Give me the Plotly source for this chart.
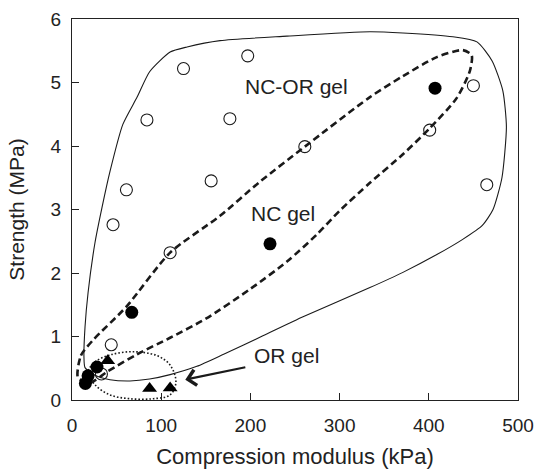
import plotly.graph_objects as go

# NC-OR gel (open circles)
ncor_x = [125, 197, 84, 177, 261, 61, 156, 450, 401, 465, 46, 110, 44, 33]
ncor_y = [5.22, 5.42, 4.41, 4.43, 3.99, 3.31, 3.45, 4.95, 4.25, 3.39, 2.76, 2.32, 0.87, 0.41]

# NC gel (filled circles)
nc_x = [407, 222, 67, 28, 18, 15]
nc_y = [4.91, 2.46, 1.38, 0.52, 0.38, 0.26]

# OR gel (filled triangles)
or_x = [40, 87, 110]
or_y = [0.62, 0.18, 0.19]

# Hand-drawn enclosures (data coordinates)
outer_x = [14.6, 25.8, 42.6, 65, 87, 110, 140, 170, 214, 259, 334, 371, 409, 438, 460, 472,
           482, 487, 483, 471, 454, 427, 371, 334, 241, 166, 129, 110, 87, 73, 57, 42.6,
           33.6, 25.8, 18, 14.6, 13.4, 14.6]
outer_y = [0.51, 0.39, 0.32, 0.30, 0.33, 0.40, 0.53, 0.72, 1.01, 1.31, 1.77, 2.01, 2.29, 2.53, 2.75, 3.00,
           3.50, 4.30, 4.87, 5.34, 5.64, 5.72, 5.78, 5.80, 5.73, 5.66, 5.56, 5.48, 5.17, 4.77, 4.34, 3.60,
           3.03, 2.48, 1.69, 1.15, 0.68, 0.51]

nc_env_x = [6.7, 10, 24, 61, 110, 166, 210, 261, 334, 371, 409, 438, 448, 446,
            431, 401, 371, 334, 300, 274, 241, 200, 150, 110, 73, 40, 20, 6.7]
nc_env_y = [0.35, 0.70, 0.95, 1.47, 2.32, 2.90, 3.43, 3.99, 4.77, 5.10, 5.40, 5.51, 5.43, 5.18,
            4.75, 4.28, 3.87, 3.42, 2.98, 2.60, 2.18, 1.75, 1.28, 0.98, 0.72, 0.45, 0.27, 0.35]

or_env_x = [18, 25.8, 42.6, 68, 95, 110, 116.5, 110, 91, 65, 42.6, 25.8, 18]
or_env_y = [0.44, 0.60, 0.71, 0.76, 0.70, 0.55, 0.28, 0.08, 0.02, 0.02, 0.08, 0.24, 0.44]

ink = "#1a1a1a"
fig = go.Figure()

fig.add_trace(go.Scatter(x=outer_x, y=outer_y, mode="lines",
                         line=dict(color=ink, width=1.1, shape="spline", smoothing=0.6),
                         hoverinfo="skip", showlegend=False))
fig.add_trace(go.Scatter(x=nc_env_x, y=nc_env_y, mode="lines",
                         line=dict(color=ink, width=2.6, dash="7px,4px", shape="spline", smoothing=0.7),
                         hoverinfo="skip", showlegend=False))
fig.add_trace(go.Scatter(x=or_env_x, y=or_env_y, mode="lines",
                         line=dict(color=ink, width=1.6, dash="1.6px,2px", shape="spline", smoothing=1.0),
                         hoverinfo="skip", showlegend=False))

fig.add_trace(go.Scatter(x=ncor_x, y=ncor_y, mode="markers", name="NC-OR gel",
                         marker=dict(symbol="circle-open", size=12, color=ink, line=dict(width=1.1)),
                         showlegend=False, cliponaxis=False))
fig.add_trace(go.Scatter(x=nc_x, y=nc_y, mode="markers", name="NC gel",
                         marker=dict(symbol="circle", size=13, color="black"),
                         showlegend=False, cliponaxis=False))
fig.add_trace(go.Scatter(x=or_x, y=or_y, mode="markers", name="OR gel",
                         marker=dict(symbol="triangle-up", size=13, color="black"),
                         showlegend=False, cliponaxis=False))

font_family = "Liberation Sans, Arial, sans-serif"
label_font = dict(family=font_family, size=21, color="#222")

fig.add_annotation(x=252, y=4.94, text="NC-OR gel", showarrow=False, font=label_font)
fig.add_annotation(x=236, y=2.94, text="NC gel", showarrow=False, font=label_font)
fig.add_annotation(x=241, y=0.70, text="OR gel", showarrow=False, font=label_font)
fig.add_annotation(x=127, y=0.32, ax=196, ay=0.52, axref="x", ayref="y", xref="x", yref="y",
                   text="", showarrow=True, arrowhead=4, arrowsize=1.4, arrowwidth=2.2,
                   arrowcolor=ink)

axis_common = dict(showline=True, linecolor="#222", linewidth=1.3, mirror=True,
                   ticks="inside", ticklen=7, tickwidth=1.2, tickcolor="#222",
                   showgrid=False, zeroline=False, automargin=False,
                   tickfont=dict(family=font_family, size=19, color="#222"))

fig.update_xaxes(range=[0, 500], tickvals=[0, 100, 200, 300, 400, 500], ticklabelstandoff=8,
                 title=dict(text="Compression modulus (kPa)",
                            font=dict(family=font_family, size=22, color="#222"), standoff=14),
                 **axis_common)
fig.update_yaxes(range=[0, 6], tickvals=[0, 1, 2, 3, 4, 5, 6], ticklabelstandoff=6,
                 title=dict(text="Strength (MPa)",
                            font=dict(family=font_family, size=21, color="#222"), standoff=20),
                 **axis_common)

fig.update_layout(width=538, height=469, margin=dict(l=72, r=20, t=19, b=69),
                  plot_bgcolor="white", paper_bgcolor="white")

fig.write_html("out.html", config={"displayModeBar": False},
               post_script="document.body.style.margin='0';document.body.style.overflow='hidden';")
